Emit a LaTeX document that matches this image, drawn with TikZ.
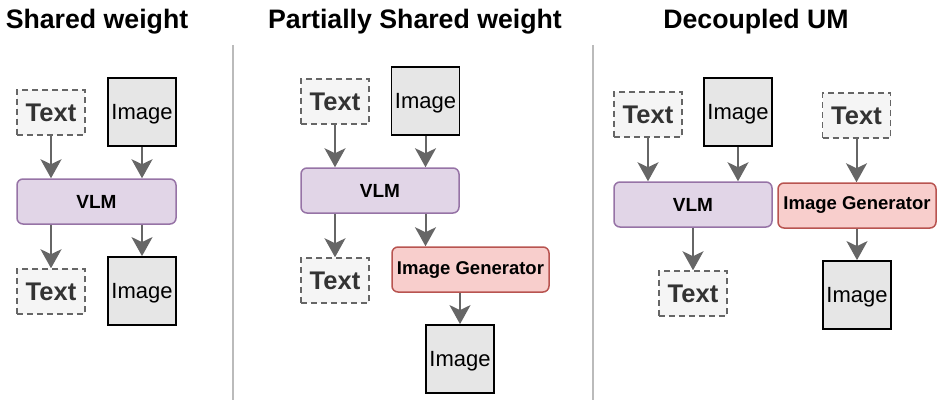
\documentclass[tikz,border=0pt]{standalone}
\usepackage{fontspec}
\setmainfont{Liberation Sans}
\usetikzlibrary{arrows.meta,calc}
\definecolor{arrgray}{HTML}{666666}
\definecolor{txtfill}{HTML}{F5F5F5}
\definecolor{txtdark}{HTML}{333333}
\definecolor{imgfill}{HTML}{E6E6E6}
\definecolor{vlmfill}{HTML}{E1D5E7}
\definecolor{vlmdraw}{HTML}{9673A6}
\definecolor{genfill}{HTML}{F8CECC}
\definecolor{gendraw}{HTML}{B85450}
\definecolor{sepgray}{HTML}{BBBBBB}
\tikzset{
  txtbox/.style={draw=arrgray, fill=txtfill, dash pattern=on 6pt off 4pt, line width=1.5pt,
    minimum width=68pt, minimum height=45pt, inner sep=0pt, text=txtdark,
    font=\fontsize{25.5}{28}\selectfont\bfseries},
  imgbox/.style={draw=black, fill=imgfill, line width=1.8pt, minimum width=68pt, minimum height=68pt,
    inner sep=0pt, text depth=0pt, font=\fontsize{22}{25}\selectfont},
  vlmbox/.style={draw=vlmdraw, fill=vlmfill, line width=1.5pt, rounded corners=6pt,
    minimum width=158pt, minimum height=45pt, inner sep=0pt, font=\fontsize{19}{22}\selectfont\bfseries},
  genbox/.style={draw=gendraw, fill=genfill, line width=1.5pt, rounded corners=6pt,
    minimum width=157pt, minimum height=45pt, inner sep=0pt, font=\fontsize{18.5}{22}\selectfont\bfseries},
  arr/.style={draw=arrgray, line width=2pt, -{Stealth[length=19pt, width=21pt, inset=5pt]}},
  titl/.style={anchor=base, font=\fontsize{26.7}{30}\selectfont\bfseries},
  sep/.style={draw=sepgray, line width=1.5pt}
}
\begin{document}
\begin{tikzpicture}[x=1pt,y=-1pt]
\useasboundingbox (0,0) rectangle (939,409);
% separators
\coordinate (s1a) at (233,45); \coordinate (s1b) at (233,400);
\coordinate (s2a) at (593,45); \coordinate (s2b) at (593,400);
\draw[sep] (s1a) -- (s1b);
\draw[sep] (s2a) -- (s2b);
% titles
\node[titl] (ti1) at (97,29) {Shared weight};
\node[titl] (ti2) at (415,29) {Partially Shared weight};
\node[titl] (ti3) at (756,29) {Decoupled UM};
% panel 1
\node[txtbox] (a1) at (51,112.5) {Text};
\node[imgbox] (ai1) at (142,112) {Image};
\node[vlmbox, minimum width=159pt] (av) at (96.5,201.5) {VLM};
\node[txtbox] (a2) at (51,291.5) {Text};
\node[imgbox] (ai2) at (142,291) {Image};
\draw[arr] (a1.south) -- (a1.south |- av.north);
\draw[arr] (ai1.south) -- (ai1.south |- av.north);
\draw[arr] (a2.north |- av.south) -- (a2.north);
\draw[arr] (ai2.north |- av.south) -- (ai2.north);
% panel 2
\node[txtbox] (b1) at (335,101.5) {Text};
\node[imgbox] (bi1) at (425.5,101) {Image};
\node[vlmbox] (bv) at (380,190.5) {VLM};
\node[txtbox] (b2) at (335,280.5) {Text};
\node[genbox] (bg) at (470.5,269.5) {Image Generator};
\node[imgbox] (bi2) at (460,359) {Image};
\draw[arr] (b1.south) -- (b1.south |- bv.north);
\draw[arr] (bi1.south) -- (bi1.south |- bv.north);
\draw[arr] (b2.north |- bv.south) -- (b2.north);
\draw[arr] (bi1.south |- bv.south) -- (bi1.south |- bg.north);
\draw[arr] (bi2.north |- bg.south) -- (bi2.north);
% panel 3
\node[txtbox] (c1) at (648,114.5) {Text};
\node[imgbox] (ci1) at (738,112) {Image};
\node[vlmbox] (cv) at (693,204.5) {VLM};
\node[txtbox] (c2) at (693,293.5) {Text};
\node[txtbox] (c3) at (856.5,115.5) {Text};
\node[genbox, minimum width=158pt] (cg) at (857,205.5) {Image Generator};
\node[imgbox] (ci2) at (857,295) {Image};
\draw[arr] (c1.south) -- (c1.south |- cv.north);
\draw[arr] (ci1.south) -- (ci1.south |- cv.north);
\draw[arr] (cv.south) -- (c2.north);
\draw[arr] (c3.south) -- (c3.south |- cg.north);
\draw[arr] (ci2.north |- cg.south) -- (ci2.north);
\end{tikzpicture}
\end{document}
